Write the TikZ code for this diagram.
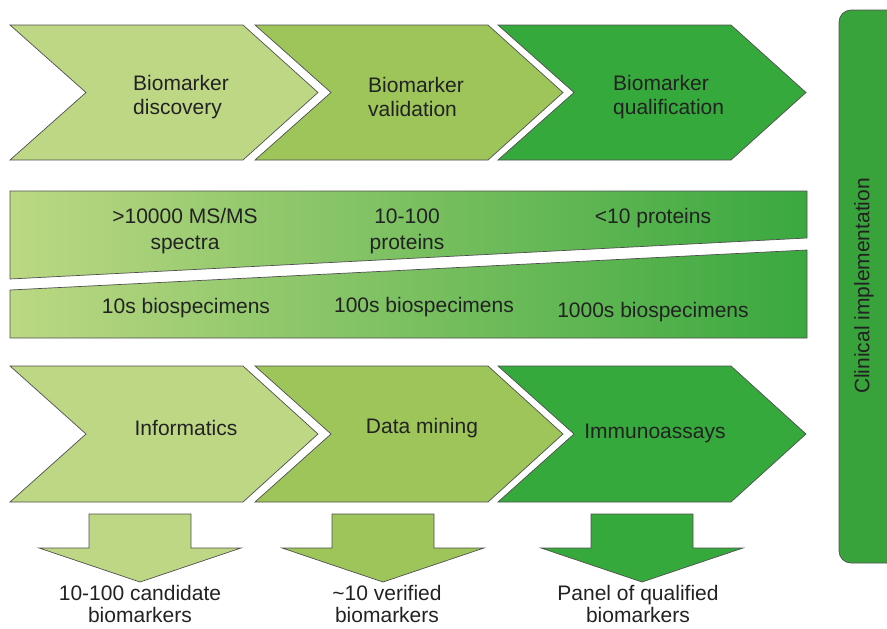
\documentclass[tikz,border=0pt]{standalone}
\usepackage{fontspec}
\setmainfont{Liberation Sans}
\usepackage{xcolor}
\definecolor{lightg}{HTML}{BDD785}
\definecolor{midg}{HTML}{9DC55A}
\definecolor{darkg}{HTML}{36A93C}
\definecolor{clin}{HTML}{38A23B}
\definecolor{bandl}{HTML}{BCD883}
\definecolor{bandr}{HTML}{3AA83F}
\definecolor{linegray}{HTML}{505050}
\definecolor{textgray}{HTML}{222222}

\begin{document}
\begin{tikzpicture}[x=1pt,y=-1pt,
    shapeline/.style={draw=linegray,line width=0.7pt,line join=miter},
    lbl/.style={text=textgray,font=\fontsize{21}{24}\selectfont,align=center,inner sep=0pt}]
        \path[use as bounding box,clip](0,0)rectangle(887,629);
        %上方箭头
        \foreach \x/\c in{0/lightg,245/midg,488/darkg}{
        \draw[shapeline,fill=\c](\x+10,25)--(\x+243,25)--(\x+318,92.5)--(\x+243,160)--(\x+10,160)--(\x+86,92.5)--cycle;
        }
        \node[lbl,anchor=west,align=left](discovery) at (133,97){Biomarker\\discovery};
        \node[lbl,anchor=west,align=left](validation) at (368,97){Biomarker\\validation};
        \node[lbl,anchor=west,align=left](qualification) at (613,97){Biomarker\\qualification};
        %中间两条
        \draw[shapeline,left color=bandl,right color=bandr](10,191)--(807,191)--(807,238)--(10,279)--cycle;
        \draw[shapeline,left color=bandl,right color=bandr](10,290)--(807,250)--(807,338)--(10,338)--cycle;
        \node[lbl,font=\fontsize{21}{26}\selectfont](spectra) at (185,231){>10000 MS/MS\\spectra};
        \node[lbl,font=\fontsize{21}{26}\selectfont](proteinsA) at (407,231){10-100\\proteins};
        \node[lbl](proteinsB) at (653,218){<10 proteins};
        \node[lbl](specA) at (186,308){10s biospecimens};
        \node[lbl](specB) at (424,307){100s biospecimens};
        \node[lbl](specC) at (653,312){1000s biospecimens};
        %下方箭头
        \foreach \x/\c in{0/lightg,245/midg,488/darkg}{
        \draw[shapeline,fill=\c](\x+10,366)--(\x+243,366)--(\x+318,434)--(\x+243,502)--(\x+10,502)--(\x+86,434)--cycle;
        }
        \node[lbl](informatics) at (186,428){Informatics};
        \node[lbl](mining) at (422,428){Data mining};
        \node[lbl](immuno) at (655,433){Immunoassays};
        %结果
        \foreach \x/\c in{140/lightg,383/midg,642/darkg}{
        \draw[shapeline,fill=\c](\x-51,514)--(\x+51,514)--(\x+51,548)--(\x+101,548)--(\x,582)--(\x-101,548)--(\x-51,548)--cycle;
        }
        \node[lbl,font=\fontsize{21}{22}\selectfont](candidate) at (140,604){10-100 candidate\\biomarkers};
        \node[lbl,font=\fontsize{21}{22}\selectfont](verified) at (387,604){\textasciitilde10 verified\\biomarkers};
        \node[lbl,font=\fontsize{21}{22}\selectfont](panel) at (638,604){Panel of qualified\\biomarkers};
        %右侧
        \draw[shapeline,fill=clin,rounded corners=12pt](900,10)--(839,10)--(839,563)--(900,563);
        \node[lbl,rotate=90](clinical) at (864,286){Clinical implementation};
    \end{tikzpicture}
\end{document}
